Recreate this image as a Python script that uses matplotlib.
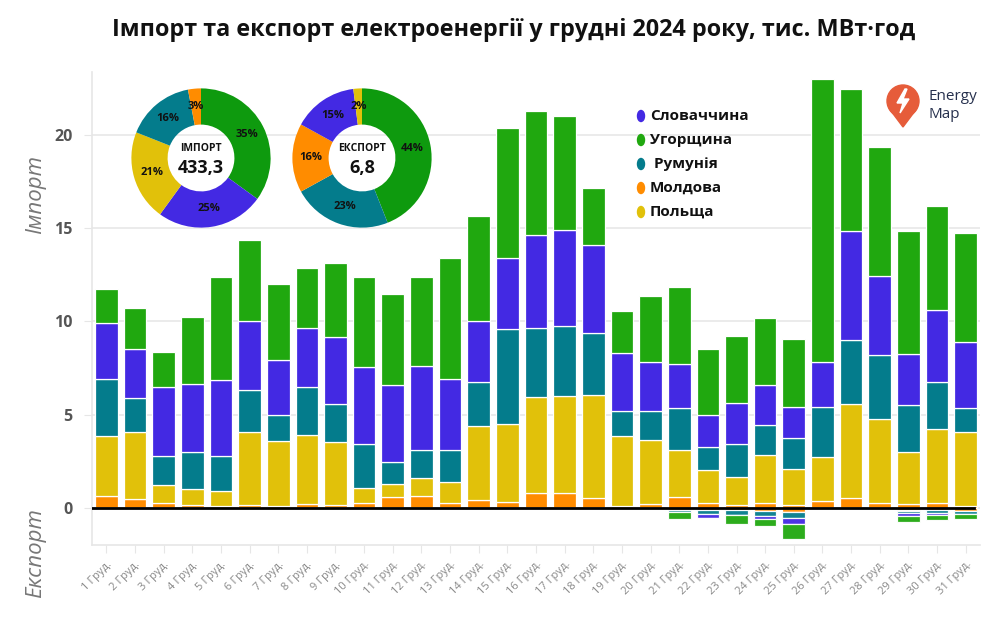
import matplotlib
matplotlib.use("Agg")
import matplotlib.pyplot as plt
import numpy as np
from matplotlib.patches import Ellipse, Circle, Polygon

plt.rcParams['font.family'] = ['Open Sans', 'DejaVu Sans']

# ---------------- data ----------------
days = list(range(1, 32))
day_labels = [f"{d} Груд." for d in days]

countries = ["Молдова", "Польща", "Румунія", "Словаччина", "Угорщина"]
colors = {"Молдова": "#FF8C00", "Польща": "#E1C10A", "Румунія": "#047C8C",
          "Словаччина": "#4329E3", "Угорщина": "#20A80F"}

imp_moldova = [0.67, 0.48, 0.27, 0.19, 0.12, 0.16, 0.12, 0.21, 0.18, 0.27,
               0.59, 0.66, 0.27, 0.44, 0.34, 0.80, 0.80, 0.54, 0.12, 0.21,
               0.62, 0.27, 0.16, 0.27, 0.18, 0.39, 0.54, 0.30, 0.21, 0.27, 0.10]
imp_poland = [3.22, 3.61, 0.99, 0.83, 0.82, 3.94, 3.47, 3.72, 3.39, 0.80,
              0.69, 0.95, 1.14, 3.98, 4.18, 5.15, 5.21, 5.54, 3.72, 3.43,
              2.47, 1.78, 1.53, 2.58, 1.92, 2.37, 5.05, 4.47, 2.79, 3.98, 4.00]
imp_romania = [3.02, 1.80, 1.54, 2.01, 1.85, 2.22, 1.41, 2.55, 2.03, 2.37,
               1.20, 1.51, 1.71, 2.34, 5.08, 3.69, 3.77, 3.29, 1.39, 1.59,
               2.27, 1.20, 1.77, 1.61, 1.65, 2.68, 3.42, 3.44, 2.50, 2.50, 1.26]
imp_slovakia = [3.00, 2.63, 3.71, 3.63, 4.08, 3.73, 2.94, 3.16, 3.56, 4.11,
                4.09, 4.52, 3.81, 3.27, 3.79, 5.00, 5.13, 4.72, 3.07, 2.61,
                2.35, 1.73, 2.16, 2.14, 1.66, 2.38, 5.85, 4.20, 2.75, 3.87, 3.55]
imp_hungary = [1.82, 2.22, 1.88, 3.60, 5.51, 4.31, 4.07, 3.23, 3.98, 4.84,
               4.89, 4.73, 6.49, 5.63, 6.96, 6.62, 6.12, 3.07, 2.28, 3.55,
               4.13, 3.55, 3.61, 3.61, 3.64, 15.18, 7.61, 6.94, 6.61, 5.57, 5.84]

exp_moldova = [0]*20 + [0.10, 0.10, 0.12, 0.15, 0.18, 0, 0, 0, 0.10, 0.10, 0.15]
exp_poland = [0]*20 + [0.00, 0.00, 0.00, 0.00, 0.00, 0, 0, 0, 0.05, 0.00, 0.00]
exp_romania = [0]*20 + [0.12, 0.20, 0.25, 0.25, 0.35, 0, 0, 0, 0.10, 0.15, 0.15]
exp_slovakia = [0]*20 + [0.00, 0.20, 0.00, 0.17, 0.30, 0, 0, 0, 0.15, 0.10, 0.00]
exp_hungary = [0]*20 + [0.35, 0.00, 0.50, 0.40, 0.80, 0, 0, 0, 0.35, 0.30, 0.30]

imports = {"Молдова": imp_moldova, "Польща": imp_poland, "Румунія": imp_romania,
           "Словаччина": imp_slovakia, "Угорщина": imp_hungary}
exports = {"Молдова": exp_moldova, "Польща": exp_poland, "Румунія": exp_romania,
           "Словаччина": exp_slovakia, "Угорщина": exp_hungary}

import_total_label = "433,3"
export_total_label = "6,8"
# pie shares (%) as shown, ordered as in the picture
imp_pie_names = ["Угорщина", "Словаччина", "Польща", "Румунія", "Молдова"]
imp_pie_vals = [35, 25, 21, 16, 3]
exp_pie_names = ["Угорщина", "Румунія", "Молдова", "Словаччина", "Польща"]
exp_pie_vals = [44, 23, 16, 15, 2]

legend_order = ["Словаччина", "Угорщина", "Румунія", "Молдова", "Польща"]
legend_texts = ["Словаччина", "Угорщина", " Румунія", "Молдова", "Польща"]

title = "Імпорт та експорт електроенергії у грудні 2024 року, тис. МВт·год"

# ---------------- figure ----------------
fig = plt.figure(figsize=(10, 6.3), dpi=100)
fig.patch.set_facecolor("white")
ax = fig.add_axes([0.092, 0.135, 0.888, 0.751])

x = np.array(days)
bottom = np.zeros(len(days))
for c in countries:
    vals = np.array(imports[c])
    ax.bar(x, vals, bottom=bottom, width=0.79, color=colors[c],
           edgecolor="white", linewidth=0.9, zorder=3)
    bottom += vals
neg = np.zeros(len(days))
for c in countries:
    vals = np.array(exports[c])
    ax.bar(x, -vals, bottom=-neg, width=0.79, color=colors[c],
           edgecolor="white", linewidth=0.9, zorder=3, alpha=0.95)
    neg += vals

ax.set_xlim(0.5, 31.5)
ax.set_ylim(-1.97, 23.37)
ax.set_yticks([0, 5, 10, 15, 20])
ax.set_yticklabels(["0", "5", "10", "15", "20"])
ax.grid(axis="y", color="#e8e8e8", linewidth=1.2, zorder=0)
ax.axhline(0, color="black", linewidth=2, zorder=4, xmax=0.993)
for s in ["top", "right"]:
    ax.spines[s].set_visible(False)
for s in ["left", "bottom"]:
    ax.spines[s].set_color("#e6e6e6")
    ax.spines[s].set_linewidth(1.2)
ax.tick_params(axis="y", length=6, color="#e6e6e6", pad=8, labelsize=11.5,
               labelcolor="#555555")
for lbl in ax.get_yticklabels():
    lbl.set_fontweight("bold")
ax.set_xticks(x)
ax.set_xticklabels(day_labels, rotation=45, ha="right", rotation_mode="anchor",
                   fontsize=8, color="#888888")
ax.tick_params(axis="x", length=6, color="#e6e6e6", pad=4)

fig.text(0.514, 0.952, title, ha="center", va="center", fontsize=16.8,
         fontweight="bold", color="#111111")
fig.text(0.036, 1 - 195 / 630, "Імпорт", rotation=90, ha="center", va="center",
         fontsize=16, style="italic", color="#777777")
fig.text(0.036, 1 - 553 / 630, "Експорт", rotation=90, ha="center", va="center",
         fontsize=16, style="italic", color="#777777")

# ---------------- pies ----------------
pie_green = "#0E9A0E"

def draw_pie(cx, cy, names, vals, head, total):
    size = 142
    pax = fig.add_axes([(cx - size / 2) / 1000, 1 - (cy + size / 2) / 630,
                        size / 1000, size / 630])
    cols = [pie_green if n == "Угорщина" else colors[n] for n in names]
    wedges, _ = pax.pie(vals, colors=cols, startangle=90, counterclock=False,
                        radius=1.0, wedgeprops=dict(width=0.52, linewidth=0))
    for w, v in zip(wedges, vals):
        ang = np.deg2rad((w.theta1 + w.theta2) / 2)
        r = 0.74
        pax.text(r * np.cos(ang), r * np.sin(ang), f"{v}%", ha="center",
                 va="center", fontsize=8, fontweight="bold", color="#111111")
    pax.text(0, 0.14, head, ha="center", va="center", fontsize=7.5,
             fontweight="bold", color="#111111")
    pax.text(0, -0.14, total, ha="center", va="center", fontsize=13,
             fontweight="bold", color="#111111")
    pax.set_aspect("equal")
    pax.set_xlim(-1.02, 1.02)
    pax.set_ylim(-1.02, 1.02)
    pax.axis("off")

draw_pie(201, 158, imp_pie_names, imp_pie_vals, "ІМПОРТ", import_total_label)
draw_pie(362, 158, exp_pie_names, exp_pie_vals, "ЕКСПОРТ", export_total_label)

# ---------------- legend ----------------
leg_y = [116, 140, 164, 188, 212]
for name, txt, yy in zip(legend_order, legend_texts, leg_y):
    fig.add_artist(Ellipse((641 / 1000, 1 - yy / 630), 7 / 1000, 11 / 630,
                           transform=fig.transFigure, color=colors[name]))
    fig.text(650 / 1000, 1 - yy / 630, txt, ha="left", va="center",
             fontsize=11, fontweight="bold", color="#111111")

# ---------------- logo ----------------
lax = fig.add_axes([880 / 1000, 1 - 132 / 630, 50 / 1000, 50 / 630])
lax.set_xlim(0, 50)
lax.set_ylim(0, 50)
lax.set_aspect("equal")
lax.axis("off")
pin = "#E65C3A"
lax.add_patch(Circle((23, 31), 16, color=pin))
lax.add_patch(Polygon([[9.5, 23], [36.5, 23], [23, 5]], closed=True, color=pin))
lax.add_patch(Polygon([[25, 43], [17, 29], [23, 29], [20, 19], [29, 33],
                       [23, 33], [27, 43]], closed=True, color="white"))
fig.text(928 / 1000, 1 - 97 / 630, "Energy", ha="left", va="center",
         fontsize=11, color="#26304d")
fig.text(928 / 1000, 1 - 114 / 630, "Map", ha="left", va="center",
         fontsize=11, color="#26304d")

fig.savefig("out.png", dpi=100, facecolor="white")
